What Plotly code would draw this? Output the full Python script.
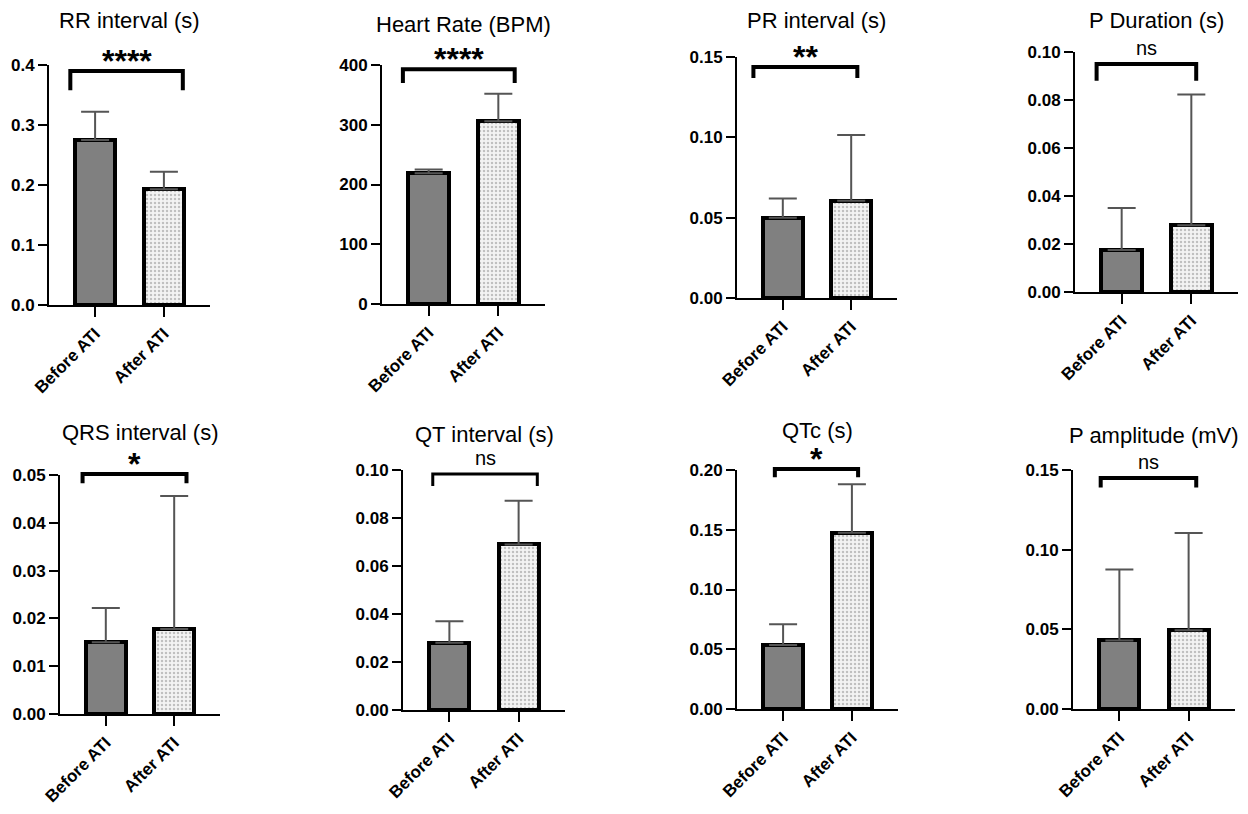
import plotly.graph_objects as go

# ---- data ---------------------------------------------------------------
GROUPS = ["Before ATI", "After ATI"]
TITLES = ["RR interval (s)", "Heart Rate (BPM)", "PR interval (s)", "P Duration (s)",
          "QRS interval (s)", "QT interval (s)", "QTc (s)", "P amplitude (mV)"]
BEFORE_MEAN = [0.275, 219, 0.050, 0.0175, 0.0150, 0.0280, 0.0535, 0.0430]
BEFORE_SD = [0.047, 6, 0.012, 0.0175, 0.0072, 0.0090, 0.0175, 0.0445]
AFTER_MEAN = [0.193, 306, 0.0605, 0.0278, 0.0178, 0.0690, 0.1475, 0.0495]
AFTER_SD = [0.029, 46, 0.041, 0.0545, 0.0278, 0.0182, 0.0405, 0.0610]
SIGNIF = ["****", "****", "**", "ns", "*", "ns", "*", "ns"]
Y_MAX = [0.4, 400, 0.15, 0.10, 0.05, 0.10, 0.20, 0.15]
Y_DTICK = [0.1, 100, 0.05, 0.02, 0.01, 0.02, 0.05, 0.05]
Y_FORMAT = [".1f", "d", ".2f", ".2f", ".2f", ".2f", ".2f", ".2f"]
# significance brackets: horizontal bar level, foot level, ends (category units)
BRACKET_TOP = [0.390, 393, 0.1438, 0.095, 0.0502, 0.0983, 0.2008, 0.145]
BRACKET_FOOT = [0.358, 370, 0.137, 0.088, 0.0483, 0.0933, 0.194, 0.139]
BRACKET_LEFT = [-0.36, -0.37, -0.43, -0.36, -0.34, -0.24, -0.12, -0.27]
BRACKET_RIGHT = [1.275, 1.235, 1.09, 1.07, 1.18, 1.27, 1.09, 1.11]

# ---- layout (pixels of the 1248x814 page) --------------------------------
W, H, OFF = 1248, 814, 8  # OFF: default body margin of the page
BOXES = [(49, 210, 65, 305), (382, 545, 65, 304), (737, 897, 57, 298), (1075, 1238, 52, 292),
         (60, 220, 475, 714), (403, 565, 470, 710), (737, 898, 470, 709), (1073, 1235, 470, 709)]
TITLE_Y = [21, 25, 21, 21, 432, 434, 430, 435]
X_RANGE = [-0.67, 1.67]
FONT = "Liberation Sans, Arial, sans-serif"
FW, FH = W - 2 * OFF, H - 2 * OFF


def px_x(v):
    return (v - OFF) / FW


def px_y(v):
    return 1 - (v - OFF) / FH


fig = go.Figure()
layout = dict(
    width=FW, height=FH, margin=dict(l=0, r=0, t=0, b=0, autoexpand=False),
    paper_bgcolor="white", plot_bgcolor="white", showlegend=False,
    font=dict(family=FONT, color="black"), bargap=0,
)
annotations = []
shapes = []

for i, title in enumerate(TITLES):
    n = i + 1
    sfx = "" if n == 1 else str(n)
    xa, ya = "x" + sfx, "y" + sfx
    left, right, top, bottom = BOXES[i]

    fig.add_trace(go.Bar(
        x=[GROUPS[0]], y=[BEFORE_MEAN[i]], xaxis=xa, yaxis=ya, width=0.58,
        marker=dict(color="#808080", line=dict(color="black", width=4)),
        error_y=dict(type="data", array=[BEFORE_SD[i]], arrayminus=[0], symmetric=False,
                     color="#555555", thickness=2, width=14),
    ))
    fig.add_trace(go.Bar(
        x=[GROUPS[1]], y=[AFTER_MEAN[i]], xaxis=xa, yaxis=ya, width=0.58,
        marker=dict(color="#f3f3f3", line=dict(color="black", width=4),
                    pattern=dict(shape=".", fgcolor="#8c8c8c", bgcolor="#f3f3f3",
                                 size=4, solidity=0.3)),
        error_y=dict(type="data", array=[AFTER_SD[i]], arrayminus=[0], symmetric=False,
                     color="#555555", thickness=2, width=14),
    ))

    layout["xaxis" + sfx] = dict(
        domain=[px_x(left), px_x(right)], anchor=ya, range=X_RANGE, automargin=False,
        type="category", categoryorder="array", categoryarray=GROUPS,
        showline=True, linecolor="black", linewidth=2, showgrid=False, zeroline=False,
        ticks="outside", ticklen=10, tickwidth=2, tickcolor="black", tickangle=-45,
        tickfont=dict(family=FONT, size=17, color="black", weight="bold"),
    )
    layout["yaxis" + sfx] = dict(
        domain=[px_y(bottom), px_y(top)], anchor=xa, range=[0, Y_MAX[i]], automargin=False,
        dtick=Y_DTICK[i], tick0=0, tickformat=Y_FORMAT[i],
        showline=True, linecolor="black", linewidth=2, showgrid=False, zeroline=False,
        ticks="outside", ticklen=9, tickwidth=2, tickcolor="black",
        tickfont=dict(family=FONT, size=17, color="black", weight="bold"),
    )

    annotations.append(dict(
        text=title, xref="paper", yref="paper",
        x=(px_x(left) + px_x(right)) / 2, y=px_y(TITLE_Y[i]),
        xanchor="center", yanchor="middle", showarrow=False,
        font=dict(family=FONT, size=22, color="black"),
    ))

    # bracket and its label in domain units so nothing is hidden above the axis top
    span = X_RANGE[1] - X_RANGE[0]
    x0 = (BRACKET_LEFT[i] - X_RANGE[0]) / span
    x1 = (BRACKET_RIGHT[i] - X_RANGE[0]) / span
    yt = BRACKET_TOP[i] / Y_MAX[i]
    yf = BRACKET_FOOT[i] / Y_MAX[i]
    shapes.append(dict(
        type="path", xref=xa + " domain", yref=ya + " domain",
        path=f"M {x0},{yf} L {x0},{yt} L {x1},{yt} L {x1},{yf}",
        line=dict(color="black", width=4 if i != 5 else 3),
    ))

    is_star = SIGNIF[i] != "ns"
    annotations.append(dict(
        text=SIGNIF[i], xref=xa + " domain", yref=ya + " domain",
        x=(x0 + x1) / 2, y=yt,
        xanchor="center", yanchor="middle", showarrow=False,
        yshift=10 if is_star else 16,
        font=dict(family=FONT, size=32 if is_star else 20, color="black",
                  weight="bold" if is_star else "normal"),
    ))

layout["annotations"] = annotations
layout["shapes"] = shapes
fig.update_layout(**layout)

fig.write_html("out.html")
